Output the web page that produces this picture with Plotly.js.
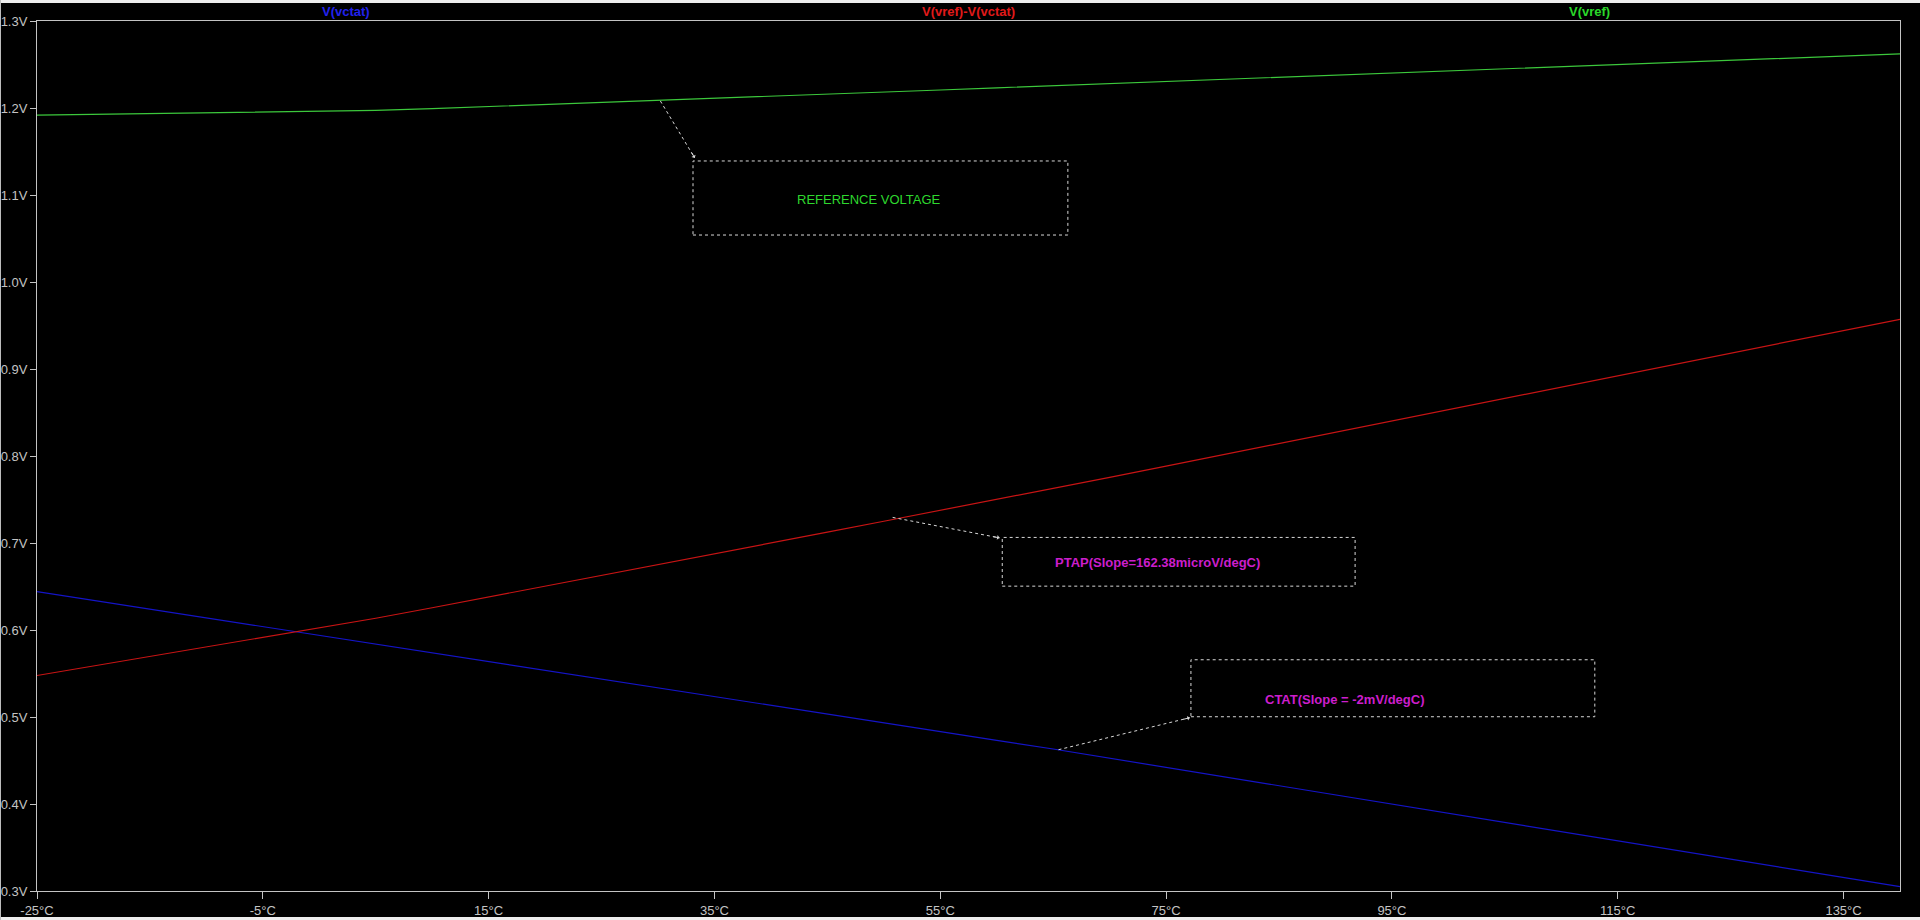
<!DOCTYPE html>
<html>
<head>
<meta charset="utf-8">
<script src="https://cdn.plot.ly/plotly-3.0.1.min.js"></script>
<style>
  html, body { margin: 0; padding: 0; background: #eeeeee; width: 1920px; height: 920px; overflow: hidden; }
  #chart { position: absolute; left: 0px; top: 3px; width: 1920px; height: 914px; background: #000; }
  #leftedge { position: absolute; left: 0; top: 0; width: 1px; height: 920px; background: #bdbdbd; pointer-events: none; }
</style>
</head>
<body>
<div id="chart"></div>
<div id="leftedge"></div>
<script>
// Temperature sweep (°C)
const temperature = [-25,-20,-15,-10,-5,0,5,10,15,20,25,30,35,40,45,50,55,60,65,70,75,80,85,90,95,100,105,110,115,120,125,130,135,140];
// V(vctat)
const vctat = [0.6441,0.6340,0.6240,0.6139,0.6039,0.5938,0.5838,0.5737,0.5637,0.5536,0.5436,0.5335,0.5235,0.5134,0.5034,0.4933,0.4833,0.4732,0.4632,0.4527,0.4422,0.4317,0.4212,0.4107,0.4001,0.3896,0.3791,0.3685,0.3580,0.3474,0.3369,0.3263,0.3157,0.3050];
// V(vref)-V(vctat)
const ptat = [0.5477,0.5587,0.5697,0.5807,0.5916,0.6026,0.6135,0.6256,0.6379,0.6503,0.6627,0.6751,0.6875,0.7000,0.7124,0.7250,0.7374,0.7500,0.7624,0.7754,0.7884,0.8014,0.8143,0.8272,0.8402,0.8531,0.8660,0.8790,0.8919,0.9049,0.9179,0.9309,0.9440,0.9571];
// V(vref)
const vref = [1.1918,1.1927,1.1937,1.1946,1.1955,1.1964,1.1973,1.1993,1.2016,1.2039,1.2063,1.2086,1.2110,1.2134,1.2158,1.2183,1.2207,1.2232,1.2256,1.2281,1.2306,1.2331,1.2355,1.2379,1.2403,1.2427,1.2451,1.2475,1.2499,1.2523,1.2548,1.2572,1.2597,1.2621];

const seriesNames = ["V(vctat)", "V(vref)-V(vctat)", "V(vref)"];
const xTickVals = [-25,-5,15,35,55,75,95,115,135];
const xTickText = ["-25°C","-5°C","15°C","35°C","55°C","75°C","95°C","115°C","135°C"];
const yTickVals = [0.3,0.4,0.5,0.6,0.7,0.8,0.9,1.0,1.1,1.2,1.3];
const yTickText = ["0.3V","0.4V","0.5V","0.6V","0.7V","0.8V","0.9V","1.0V","1.1V","1.2V","1.3V"];

// Callout notes: text, box corners, arrow start (on trace) and end
const noteTexts = ["REFERENCE VOLTAGE", "PTAP(Slope=162.38microV/degC)", "CTAT(Slope = -2mV/degC)"];
const noteBoxX = [[33.1, 66.3], [60.49, 91.74], [77.2, 112.97]];
const noteBoxY = [[1.054, 1.1391], [0.6504, 0.7064], [0.5003, 0.5658]];
const noteTextX = [48.65, 74.24, 90.88];
const noteTextY = [1.0943, 0.6776, 0.5204];
const arrowFromX = [30.21, 50.78, 65.47];
const arrowFromY = [1.2081, 0.7294, 0.4624];
const arrowToX = [33.25, 60.25, 77.1];
const arrowToY = [1.1426, 0.7059, 0.4992];

const FONT = "Arial, 'Liberation Sans', sans-serif";
const traceColors = ["#1414c8", "#c81414", "#3cc83c"];
const labelColors = ["#2222ee", "#e01a1a", "#2ad82a"];
const noteColors = ["#2ed82e", "#cc1ecc", "#cc1ecc"];
const axisGray = "#c4c4c4";

const traces = [
  { x: temperature, y: vctat, name: seriesNames[0], type: "scatter", mode: "lines", line: { color: traceColors[0], width: 1.2 } },
  { x: temperature, y: ptat,  name: seriesNames[1], type: "scatter", mode: "lines", line: { color: traceColors[1], width: 1.2 } },
  { x: temperature, y: vref,  name: seriesNames[2], type: "scatter", mode: "lines", line: { color: traceColors[2], width: 1.2 } }
];

const shapes = [];
const annotations = [];

// series labels at top
const labelPos = [0.1659, 0.5, 0.8331];
for (let i = 0; i < 3; i++) {
  annotations.push({
    xref: "paper", yref: "paper", x: labelPos[i], y: 1, yanchor: "middle", xanchor: "center",
    yshift: 10, showarrow: false, text: seriesNames[i],
    font: { family: FONT, size: 13, color: labelColors[i], weight: "bold" }
  });
}

// callouts
const headOff = [[-4, -7], [-8, -1.5], [-8, 2]];
for (let i = 0; i < 3; i++) {
  shapes.push({
    type: "rect", xref: "x", yref: "y",
    x0: noteBoxX[i][0], x1: noteBoxX[i][1], y0: noteBoxY[i][0], y1: noteBoxY[i][1],
    line: { color: "#d8d8d8", width: 1, dash: "3px,3px" }
  });
  shapes.push({
    type: "line", xref: "x", yref: "y",
    x0: arrowFromX[i], y0: arrowFromY[i], x1: arrowToX[i], y1: arrowToY[i],
    line: { color: "#d8d8d8", width: 1, dash: "3px,3px" }
  });
  annotations.push({
    xref: "x", yref: "y", x: arrowToX[i], y: arrowToY[i], ax: headOff[i][0], ay: headOff[i][1],
    text: "", showarrow: true, arrowhead: 1, arrowsize: 0.8, arrowwidth: 1, arrowcolor: "#d8d8d8"
  });
  annotations.push({
    xref: "x", yref: "y", x: noteTextX[i], y: noteTextY[i], xanchor: "center", yanchor: "middle",
    showarrow: false, text: noteTexts[i],
    font: { family: FONT, size: 13, color: noteColors[i], weight: i === 0 ? "normal" : "bold" }
  });
}

const layout = {
  width: 1920, height: 914,
  margin: { l: 37, r: 20, t: 18, b: 26, pad: 0 },
  paper_bgcolor: "#000000", plot_bgcolor: "#000000",
  showlegend: false,
  font: { family: FONT, size: 13, color: axisGray },
  xaxis: {
    range: [-25, 140], tickmode: "array", tickvals: xTickVals, ticktext: xTickText,
    showgrid: false, zeroline: false, showline: true, mirror: true,
    linecolor: axisGray, linewidth: 1, ticks: "outside", ticklen: 7, tickcolor: axisGray, tickwidth: 1,
    tickfont: { family: FONT, size: 13, color: axisGray }
  },
  yaxis: {
    range: [0.3, 1.3], tickmode: "array", tickvals: yTickVals, ticktext: yTickText,
    showgrid: false, zeroline: false, showline: true, mirror: true,
    linecolor: axisGray, linewidth: 1, ticks: "outside", ticklen: 6, tickcolor: axisGray, tickwidth: 1,
    tickfont: { family: FONT, size: 13, color: axisGray }
  },
  shapes: shapes,
  annotations: annotations
};

Plotly.newPlot("chart", traces, layout, { displayModeBar: false, staticPlot: true });
</script>
</body>
</html>
